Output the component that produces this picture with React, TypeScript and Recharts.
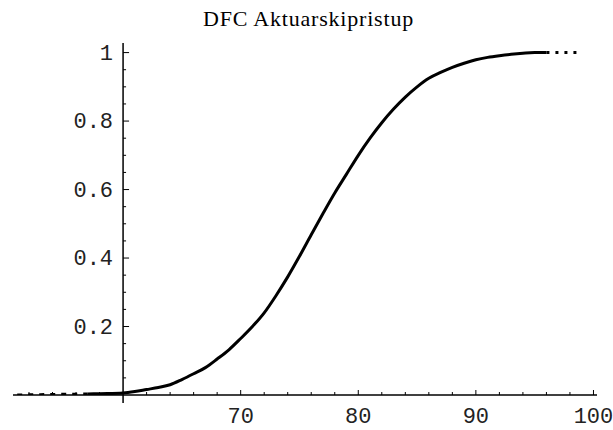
import React from "react";
import { LineChart, Line, XAxis, YAxis, ReferenceLine } from "recharts";

// survival curve
const ages = [51, 53, 55, 57, 58, 60, 61, 62, 63, 64, 65, 66, 67, 68, 69, 70, 71, 72, 73, 74, 75, 76, 77, 78, 79, 80, 81, 82, 83, 84, 85, 86, 87, 88, 89, 90, 91, 92, 93, 94, 95, 96, 97, 98, 99];
const prob = [0.0, 0.001, 0.002, 0.003, 0.004, 0.006, 0.01, 0.016, 0.022, 0.03, 0.045, 0.062, 0.08, 0.105, 0.132, 0.165, 0.2, 0.24, 0.29, 0.345, 0.405, 0.468, 0.53, 0.59, 0.645, 0.7, 0.75, 0.795, 0.835, 0.87, 0.9, 0.925, 0.942, 0.957, 0.969, 0.979, 0.986, 0.991, 0.995, 0.998, 1.0, 1.0, 1.0, 1.0, 1.0];

const xTicks = [52, 54, 56, 58, 60, 62, 64, 66, 68, 70, 72, 74, 76, 78, 80, 82, 84, 86, 88, 90, 92, 94, 96, 98, 100];
const xLabels = [70, 80, 90, 100];
const yTicks = [0.05, 0.1, 0.15, 0.2, 0.25, 0.3, 0.35, 0.4, 0.45, 0.5, 0.55, 0.6, 0.65, 0.7, 0.75, 0.8, 0.85, 0.9, 0.95, 1];
const yLabels = [0.2, 0.4, 0.6, 0.8, 1];

const W = 613;
const H = 430;
const Y_W = 13;
const M = { top: 43, right: 16, left: 0, bottom: 0 };
const XMIN = 50.64;
const XMAX = 100.3;
const ORIGIN = 60;
const plotW = W - Y_W - M.left - M.right;
const originX = M.left + Y_W + ((ORIGIN - XMIN) / (XMAX - XMIN)) * plotW;

const pts = ages.map((a, i) => ({ x: a, y: prob[i] }));
const leftTail = pts.filter((p) => p.x <= 57);
const body = pts.filter((p) => p.x >= 57 && p.x <= 96);
const rightTail = pts.filter((p) => p.x >= 96);

const mono = "'Liberation Mono', 'DejaVu Sans Mono', monospace";

const XTick = (props: any) => {
  const { x, y, payload } = props;
  const v = payload.value;
  const major = xLabels.includes(v);
  if (v === ORIGIN) {
    return <line x1={x} x2={x} y1={y} y2={y + 8} stroke="#000" strokeWidth={1.5} />;
  }
  return (
    <g>
      <line x1={x} x2={x} y1={y} y2={y - (major ? 5 : 3)} stroke="#000" strokeWidth={1} />
      {major && (
        <text x={x} y={y + 28} textAnchor="middle" fontFamily={mono} fontSize={22} fill="#222">
          {v}
        </text>
      )}
    </g>
  );
};

const YTick = (props: any) => {
  const { y, payload } = props;
  const v = payload.value;
  const major = yLabels.includes(v);
  return (
    <g>
      <line x1={originX} x2={originX + (major ? 6 : 3)} y1={y} y2={y} stroke="#000" strokeWidth={1} />
      {major && (
        <text x={originX - 10} y={y + 7} textAnchor="end" fontFamily={mono} fontSize={22} fill="#222">
          {v}
        </text>
      )}
    </g>
  );
};

export default function App() {
  return (
    <div style={{ position: "absolute", left: 0, top: 0, width: W, height: H, background: "#fff" }}>
      <div
        style={{
          position: "absolute",
          left: 0,
          top: 6,
          width: W,
          textAlign: "center",
          fontFamily: "'Liberation Serif', 'DejaVu Serif', serif",
          fontSize: 22,
          letterSpacing: 0.8,
          lineHeight: "26px",
          color: "#000",
          paddingLeft: 2,
        }}
      >
        DFC Aktuarskipristup
      </div>
      <LineChart width={W} height={H} margin={M}>
        <XAxis
          type="number"
          dataKey="x"
          domain={[XMIN, XMAX]}
          ticks={xTicks}
          interval={0}
          allowDataOverflow
          height={35}
          tickSize={0}
          tickMargin={0}
          tickLine={false}
          axisLine={{ stroke: "#000", strokeWidth: 1.5 }}
          tick={<XTick />}
        />
        <YAxis
          type="number"
          domain={[0, 1.028]}
          ticks={yTicks}
          interval={0}
          allowDataOverflow
          width={Y_W}
          tickSize={0}
          tickMargin={0}
          tickLine={false}
          axisLine={false}
          tick={<YTick />}
        />
        <ReferenceLine x={ORIGIN} stroke="#000" strokeWidth={1.5} />
        <Line data={leftTail} dataKey="y" stroke="#000" strokeWidth={3} strokeDasharray="5 6" dot={false} type="monotone" isAnimationActive={false} />
        <Line data={body} dataKey="y" stroke="#000" strokeWidth={3} dot={false} type="monotone" isAnimationActive={false} />
        <Line data={rightTail} dataKey="y" stroke="#000" strokeWidth={3} strokeDasharray="3 6" dot={false} type="monotone" isAnimationActive={false} />
      </LineChart>
    </div>
  );
}
